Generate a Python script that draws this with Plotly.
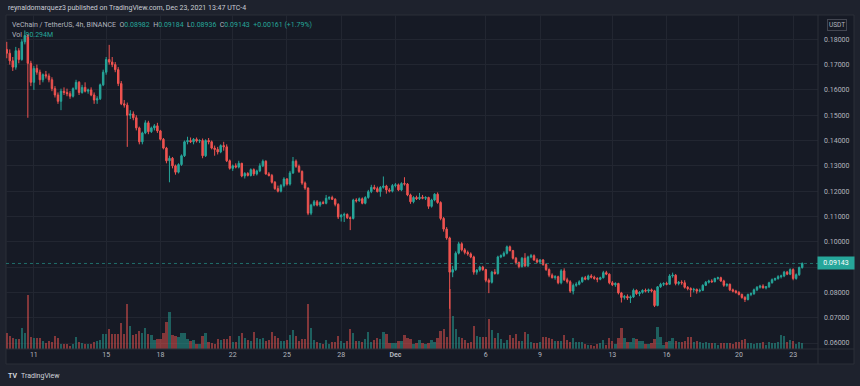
import pandas as pd
import plotly.graph_objects as go

# ---------------- data (4h candles, VET/USDT, Binance) ----------------
START = "2021-11-09 12:00"
FREQ = "4h"

OPEN = [
 .1760,.1745,.1715,.1690,.1755,.1720,.1790,.1815,.1705,.1630,.1685,.1670,.1640,.1660,.1655,.1640,.1605,.1580,.1555,.1595,
 .1590,.1585,.1575,.1605,.1630,.1590,.1610,.1595,.1600,.1580,.1560,.1565,.1620,.1670,.1720,.1710,.1700,.1680,.1625,.1545,
 .1540,.1500,.1505,.1490,.1450,.1395,.1430,.1470,.1435,.1450,.1458,.1438,.1405,.1370,.1320,.1330,.1300,.1275,.1305,.1340,
 .1395,.1400,.1395,.1405,.1398,.1400,.1340,.1400,.1395,.1370,.1365,.1355,.1380,.1375,.1320,.1290,.1300,.1295,.1310,.1260,
 .1270,.1262,.1285,.1268,.1280,.1300,.1318,.1268,.1262,.1235,.1210,.1200,.1222,.1248,.1228,.1272,.1318,.1298,.1278,.1232,
 .1212,.1113,.1145,.1158,.1145,.1155,.1152,.1172,.1175,.1168,.1148,.1098,.1105,.1108,.1095,.1092,.1165,.1162,.1170,.1152,
 .1175,.1198,.1215,.1210,.1198,.1215,.1220,.1205,.1200,.1222,.1225,.1205,.1230,.1228,.1185,.1158,.1175,.1170,.1176,.1172,
 .1175,.1140,.1165,.1188,.1155,.1092,.1050,.1015,.0880,.0890,.0955,.0992,.0968,.0958,.0952,.0940,.0880,.0888,.0900,.0890,
 .0848,.0840,.0880,.0875,.0940,.0945,.0955,.0980,.0965,.0935,.0918,.0902,.0935,.0905,.0940,.0945,.0928,.0920,.0928,.0910,
 .0890,.0868,.0858,.0862,.0838,.0885,.0850,.0842,.0805,.0828,.0832,.0842,.0858,.0852,.0865,.0860,.0855,.0852,.0858,.0878,
 .0872,.0838,.0830,.0835,.0798,.0780,.0784,.0778,.0782,.0808,.0795,.0800,.0808,.0805,.0810,.0806,.0748,.0822,.0832,.0835,
 .0832,.0865,.0868,.0835,.0840,.0838,.0820,.0815,.0810,.0812,.0805,.0808,.0828,.0840,.0845,.0842,.0855,.0858,.0845,.0828,
 .0832,.0810,.0805,.0800,.0792,.0780,.0772,.0792,.0795,.0810,.0820,.0825,.0818,.0822,.0838,.0850,.0855,.0862,.0865,.0880,
 .0872,.0890,.0855,.0870,.08982]

HIGH = [
 .1790,.1760,.1730,.1770,.1765,.1800,.1835,.1820,.1715,.1695,.1700,.1680,.1665,.1675,.1665,.1650,.1615,.1590,.1605,.1610,
 .1605,.1595,.1610,.1640,.1635,.1620,.1630,.1605,.1610,.1590,.1575,.1625,.1680,.1730,.1778,.1730,.1710,.1690,.1635,.1560,
 .1550,.1520,.1515,.1500,.1455,.1435,.1480,.1478,.1455,.1465,.1470,.1442,.1410,.1375,.1340,.1335,.1305,.1310,.1345,.1400,
 .1415,.1412,.1410,.1412,.1405,.1408,.1405,.1410,.1400,.1380,.1375,.1385,.1395,.1385,.1325,.1305,.1310,.1320,.1312,.1275,
 .1275,.1290,.1290,.1285,.1310,.1325,.1322,.1275,.1268,.1240,.1222,.1228,.1255,.1252,.1280,.1335,.1325,.1305,.1282,.1238,
 .1215,.1150,.1165,.1165,.1160,.1162,.1185,.1180,.1182,.1172,.1152,.1110,.1115,.1112,.1100,.1170,.1172,.1175,.1175,.1180,
 .1205,.1225,.1225,.1218,.1220,.1258,.1225,.1212,.1228,.1232,.1230,.1235,.1255,.1232,.1190,.1180,.1182,.1193,.1185,.1180,
 .1178,.1170,.1192,.1195,.1160,.1098,.1058,.1020,.0905,.0962,.1000,.0998,.0975,.0965,.0958,.0945,.0892,.0905,.0905,.0893,
 .0855,.0885,.0892,.0945,.0950,.0962,.0985,.0985,.0968,.0940,.0922,.0940,.0955,.0945,.0952,.0950,.0935,.0932,.0932,.0915,
 .0895,.0875,.0868,.0866,.0892,.0895,.0858,.0848,.0835,.0840,.0848,.0862,.0865,.0870,.0872,.0866,.0860,.0862,.0885,.0885,
 .0875,.0845,.0840,.0838,.0802,.0790,.0792,.0788,.0815,.0812,.0805,.0812,.0815,.0815,.0815,.0810,.0825,.0838,.0840,.0842,
 .0872,.0878,.0872,.0845,.0848,.0848,.0825,.0820,.0818,.0815,.0815,.0832,.0845,.0850,.0852,.0858,.0862,.0862,.0850,.0835,
 .0835,.0815,.0810,.0805,.0795,.0785,.0795,.0800,.0815,.0825,.0830,.0832,.0825,.0842,.0855,.0858,.0868,.0870,.0885,.0885,
 .0895,.0895,.0875,.0902,.09184]

LOW = [
 .1725,.1700,.1675,.1680,.1705,.1715,.1780,.1490,.1615,.1600,.1660,.1620,.1630,.1645,.1630,.1595,.1570,.1545,.1520,.1580,
 .1575,.1565,.1570,.1600,.1580,.1585,.1590,.1585,.1575,.1545,.1545,.1560,.1615,.1660,.1700,.1690,.1670,.1615,.1540,.1530,
 .1375,.1485,.1480,.1440,.1385,.1385,.1425,.1425,.1430,.1440,.1430,.1400,.1365,.1310,.1235,.1290,.1265,.1270,.1300,.1335,
 .1385,.1390,.1385,.1392,.1390,.1330,.1335,.1385,.1365,.1340,.1345,.1350,.1360,.1315,.1285,.1280,.1290,.1290,.1255,.1250,
 .1258,.1258,.1260,.1262,.1275,.1295,.1265,.1258,.1230,.1205,.1195,.1195,.1215,.1222,.1222,.1268,.1292,.1272,.1225,.1205,
 .1105,.1105,.1140,.1140,.1138,.1148,.1148,.1165,.1165,.1140,.1090,.1080,.1078,.1090,.1046,.1088,.1155,.1158,.1148,.1148,
 .1170,.1192,.1205,.1195,.1178,.1210,.1190,.1195,.1195,.1215,.1200,.1200,.1222,.1180,.1150,.1152,.1165,.1165,.1168,.1165,
 .1130,.1135,.1160,.1150,.1085,.1040,.1008,.0735,.0860,.0885,.0950,.0962,.0950,.0945,.0935,.0870,.0870,.0882,.0885,.0840,
 .0797,.0835,.0870,.0870,.0935,.0940,.0950,.0962,.0930,.0910,.0895,.0898,.0900,.0900,.0935,.0925,.0915,.0912,.0905,.0885,
 .0860,.0855,.0850,.0832,.0832,.0845,.0835,.0798,.0792,.0822,.0828,.0838,.0848,.0848,.0855,.0850,.0840,.0848,.0855,.0868,
 .0832,.0825,.0822,.0792,.0760,.0772,.0770,.0758,.0778,.0790,.0785,.0795,.0800,.0798,.0800,.0742,.0745,.0818,.0825,.0828,
 .0830,.0858,.0828,.0828,.0830,.0815,.0808,.0782,.0800,.0795,.0800,.0805,.0825,.0835,.0838,.0840,.0850,.0842,.0822,.0822,
 .0805,.0800,.0795,.0788,.0775,.0762,.0768,.0785,.0790,.0805,.0815,.0815,.0812,.0818,.0835,.0845,.0850,.0855,.0860,.0868,
 .0868,.0848,.0850,.0865,.08936]

CLOSE = [
 .1745,.1715,.1690,.1755,.1720,.1790,.1815,.1705,.1630,.1685,.1670,.1640,.1660,.1655,.1640,.1605,.1580,.1555,.1595,.1590,
 .1585,.1575,.1605,.1630,.1590,.1610,.1595,.1600,.1580,.1560,.1565,.1620,.1670,.1720,.1710,.1700,.1680,.1625,.1545,.1540,
 .1500,.1505,.1490,.1450,.1395,.1430,.1470,.1435,.1450,.1458,.1438,.1405,.1370,.1320,.1330,.1300,.1275,.1305,.1340,.1395,
 .1400,.1395,.1405,.1398,.1400,.1340,.1400,.1395,.1370,.1365,.1355,.1380,.1375,.1320,.1290,.1300,.1295,.1310,.1260,.1270,
 .1262,.1285,.1268,.1280,.1300,.1318,.1268,.1262,.1235,.1210,.1200,.1222,.1248,.1228,.1272,.1318,.1298,.1278,.1232,.1212,
 .1113,.1145,.1158,.1145,.1155,.1152,.1172,.1175,.1168,.1148,.1098,.1105,.1108,.1095,.1092,.1165,.1162,.1170,.1152,.1175,
 .1198,.1215,.1210,.1198,.1215,.1220,.1205,.1200,.1222,.1225,.1205,.1230,.1228,.1185,.1158,.1175,.1170,.1176,.1172,.1175,
 .1140,.1165,.1188,.1155,.1092,.1050,.1015,.0880,.0890,.0955,.0992,.0968,.0958,.0952,.0940,.0880,.0888,.0900,.0890,.0848,
 .0840,.0880,.0875,.0940,.0945,.0955,.0980,.0965,.0935,.0918,.0902,.0935,.0905,.0940,.0945,.0928,.0920,.0928,.0910,.0890,
 .0868,.0858,.0862,.0838,.0885,.0850,.0842,.0805,.0828,.0832,.0842,.0858,.0852,.0865,.0860,.0855,.0852,.0858,.0878,.0872,
 .0838,.0830,.0835,.0798,.0780,.0784,.0778,.0782,.0808,.0795,.0800,.0808,.0805,.0810,.0806,.0748,.0822,.0832,.0835,.0832,
 .0865,.0868,.0835,.0840,.0838,.0820,.0815,.0810,.0812,.0805,.0808,.0828,.0840,.0845,.0842,.0855,.0858,.0845,.0828,.0832,
 .0810,.0805,.0800,.0792,.0780,.0772,.0792,.0795,.0810,.0820,.0825,.0818,.0822,.0838,.0850,.0855,.0862,.0865,.0880,.0872,
 .0890,.0855,.0870,.08982,.09143]

VOLUME_M = [
 224,182,154,140,140,294,224,756,168,154,154,154,112,84,112,98,182,154,70,70,
 70,42,70,168,98,84,70,70,70,98,112,126,210,210,280,210,210,210,364,210,
 630,322,196,210,252,224,294,210,196,126,140,140,224,378,518,196,182,168,224,224,
 140,112,126,70,70,182,224,98,84,70,140,126,140,140,182,98,98,182,224,154,
 126,112,238,154,140,154,112,126,238,182,154,112,112,126,196,266,182,112,140,140,
 630,294,126,98,84,70,126,70,98,98,182,112,84,112,280,224,112,112,98,140,
 238,98,126,154,140,238,210,84,84,84,112,112,196,154,140,70,84,126,84,70,
 84,126,98,154,252,280,168,840,462,280,168,154,126,84,98,322,182,168,168,168,
 420,266,154,224,140,84,126,196,154,210,112,112,238,210,98,84,84,98,168,168,
 154,140,112,112,112,196,126,98,154,98,98,98,70,56,56,42,70,84,126,56,
 154,112,70,154,294,154,98,98,154,140,112,112,70,70,84,140,308,168,56,98,
 112,154,112,98,98,112,168,168,98,112,98,84,98,84,84,84,56,84,84,84,
 84,70,98,98,126,140,84,84,70,84,84,98,56,98,84,84,98,196,182,98,
 126,112,70,98,90.294]

TICK_DATES = ["2021-11-11", "2021-11-15", "2021-11-18", "2021-11-22", "2021-11-25",
              "2021-11-28", "2021-12-01", "2021-12-06", "2021-12-09", "2021-12-13",
              "2021-12-16", "2021-12-20", "2021-12-23"]
TICK_TEXT = ["11", "15", "18", "22", "25", "28", "<b>Dec</b>", "6", "9", "13", "16", "20", "23"]
PRICE_TICKS = [0.06, 0.07, 0.08, 0.09, 0.10, 0.11, 0.12, 0.13, 0.14, 0.15, 0.16, 0.17, 0.18]
# the 0.09000 label sits behind the last-price tag in the reference
PRICE_TEXT = ["0.06000", "0.07000", "0.08000", "", "0.10000", "0.11000", "0.12000",
              "0.13000", "0.14000", "0.15000", "0.16000", "0.17000", "0.18000"]
LAST_PRICE = 0.09143

# ---------------- styling ----------------
UP = "#26a69a"
DOWN = "#ef5350"
UP_VOL = "rgba(38,166,154,0.5)"
DOWN_VOL = "rgba(239,83,80,0.5)"
PANE = "#161a25"
OUTER = "#1e222d"
BORDER = "#2a2e39"
GRID = "#222631"
TXT = "#b2b5be"
FONT = "Roboto, Open Sans, sans-serif"
FS = 7

t = pd.date_range(START, periods=len(CLOSE), freq=FREQ)
vol_colors = [UP_VOL if c >= o else DOWN_VOL for o, c in zip(OPEN, CLOSE)]

fig = go.Figure()
fig.add_trace(go.Bar(
    x=t, y=VOLUME_M, yaxis="y2", marker=dict(color=vol_colors, line=dict(width=0)),
    width=4 * 3600 * 1000 * 0.75, showlegend=False, hoverinfo="skip"))
fig.add_trace(go.Candlestick(
    x=t, open=OPEN, high=HIGH, low=LOW, close=CLOSE,
    increasing=dict(line=dict(color=UP, width=1), fillcolor=UP),
    decreasing=dict(line=dict(color=DOWN, width=1), fillcolor=DOWN),
    whiskerwidth=0, showlegend=False))

W, H = 860, 386
L, R, T, B = 6, 42, 15, 37
pw = W - L - R
ph = H - T - B

def px_x(x):
    return (x - L) / pw

def px_y(y):
    return (H - B - y) / ph

fig.update_layout(
    width=W, height=H,
    margin=dict(l=L, r=R, t=T, b=B, autoexpand=False),
    paper_bgcolor=OUTER, plot_bgcolor=PANE,
    font=dict(family=FONT, color=TXT, size=FS),
    bargap=0,
    xaxis=dict(
        type="date", range=["2021-11-09 11:00", "2021-12-24 09:00"],
        tickvals=TICK_DATES, ticktext=TICK_TEXT, ticks="",
        showgrid=True, gridcolor=GRID, gridwidth=1, zeroline=False, showline=False,
        rangeslider=dict(visible=False), tickfont=dict(size=FS, color=TXT, family=FONT),
        automargin=False,
    ),
    yaxis=dict(
        side="right", range=[0.05763, 0.1896], tickvals=PRICE_TICKS, ticktext=PRICE_TEXT,
        showgrid=True, gridcolor=GRID, gridwidth=1, zeroline=False, showline=False,
        ticks="", ticklabelstandoff=5, tickfont=dict(size=FS, color=TXT, family=FONT),
        automargin=False,
    ),
    yaxis2=dict(overlaying="y", range=[0, 4676], visible=False, fixedrange=True),
    shapes=[
        dict(type="rect", xref="paper", yref="paper", x0=0, x1=px_x(854), y0=px_y(364), y1=1,
             fillcolor=PANE, line=dict(color=BORDER, width=1), layer="below"),
        dict(type="line", xref="paper", yref="paper", x0=1, x1=1, y0=px_y(364), y1=1,
             line=dict(color=BORDER, width=1)),
        dict(type="line", xref="paper", yref="paper", x0=0, x1=px_x(854), y0=0, y1=0,
             line=dict(color=BORDER, width=1)),
        dict(type="line", xref="paper", yref="y", x0=0, x1=1, y0=LAST_PRICE, y1=LAST_PRICE,
             line=dict(color="rgba(38,166,154,0.6)", width=1, dash="dot")),
    ],
)

annotations = [
    dict(text="reynaldomarquez3 published on TradingView.com, Dec 23, 2021 13:47 UTC-4",
         x=0, y=px_y(8.5), xanchor="left", yanchor="middle",
         font=dict(size=FS, color="#c9ccd4")),
    dict(text=("VeChain / TetherUS, 4h, BINANCE  O<span style='color:#26a69a'>0.08982</span>  "
               "H<span style='color:#26a69a'>0.09184</span>  L<span style='color:#26a69a'>0.08936</span>  "
               "C<span style='color:#26a69a'>0.09143</span>  "
               "<span style='color:#26a69a'>+0.00161 (+1.79%)</span>"),
         x=px_x(10), y=px_y(25), xanchor="left", yanchor="middle",
         font=dict(size=FS, color=TXT)),
    dict(text="Vol  <span style='color:#26a69a'>90.294M</span>",
         x=px_x(10), y=px_y(35), xanchor="left", yanchor="middle",
         font=dict(size=FS, color=TXT)),
    dict(text="USDT", x=px_x(837), y=px_y(25), xanchor="center", yanchor="middle",
         font=dict(size=6.5, color=TXT), bordercolor="#434651", borderwidth=1, borderpad=1,
         bgcolor=PANE),
    dict(text="0.09143", x=px_x(836), xref="paper", y=LAST_PRICE, yref="y",
         xanchor="center", yanchor="middle", font=dict(size=FS, color="#ffffff"),
         bgcolor=UP, borderpad=2, width=32),
    dict(text="<b>TV</b>", x=px_x(6), y=px_y(376), xanchor="left", yanchor="middle",
         font=dict(size=FS, color="#d1d4dc")),
    dict(text="TradingView", x=px_x(19), y=px_y(376), xanchor="left", yanchor="middle",
         font=dict(size=FS, color="#d1d4dc")),
]
for a in annotations:
    a.setdefault("xref", "paper")
    a.setdefault("yref", "paper")
    a["showarrow"] = False
fig.update_layout(annotations=annotations)

fig.write_html("out.html",
               config={"displayModeBar": False},
               post_script="document.body.style.margin='0';document.body.style.padding='0';"
                           "document.documentElement.style.overflow='hidden';")
